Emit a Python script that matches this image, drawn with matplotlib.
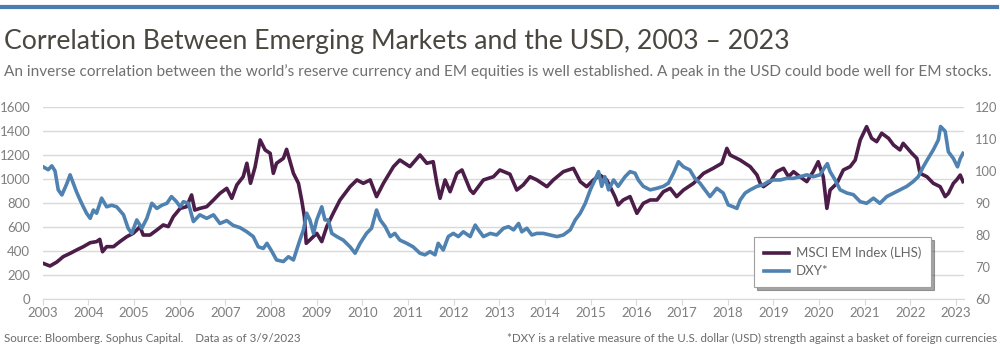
import matplotlib
matplotlib.use('Agg')
import matplotlib.pyplot as plt
from matplotlib.lines import Line2D

plt.rcParams['font.family'] = ['Lato', 'DejaVu Sans']

# MSCI EM Index (left axis)
msci_years = [2003.01, 2003.16, 2003.31, 2003.45, 2003.60, 2003.74, 2003.89, 2004.04, 2004.18, 2004.25,
              2004.31, 2004.40, 2004.55, 2004.69, 2004.84, 2004.98, 2005.06, 2005.13, 2005.20, 2005.35,
              2005.50, 2005.64, 2005.75, 2005.86, 2006.01, 2006.15, 2006.26, 2006.33, 2006.44, 2006.59,
              2006.74, 2006.88, 2007.03, 2007.14, 2007.25, 2007.39, 2007.47, 2007.55, 2007.65, 2007.76,
              2007.87, 2007.98, 2008.05, 2008.12, 2008.27, 2008.34, 2008.49, 2008.60, 2008.67, 2008.73,
              2008.77, 2008.85, 2009.00, 2009.11, 2009.22, 2009.36, 2009.51, 2009.73, 2009.88, 2010.02,
              2010.17, 2010.31, 2010.46, 2010.68, 2010.82, 2011.04, 2011.26, 2011.41, 2011.55, 2011.63,
              2011.70, 2011.81, 2011.92, 2012.07, 2012.18, 2012.36, 2012.43, 2012.65, 2012.87, 2013.01,
              2013.23, 2013.38, 2013.52, 2013.67, 2013.82, 2014.04, 2014.18, 2014.40, 2014.62, 2014.77,
              2014.91, 2015.06, 2015.20, 2015.35, 2015.53, 2015.60, 2015.71, 2015.86, 2016.01, 2016.15,
              2016.30, 2016.45, 2016.59, 2016.74, 2016.88, 2017.03, 2017.25, 2017.47, 2017.68, 2017.87,
              2017.98, 2018.05, 2018.27, 2018.49, 2018.64, 2018.71, 2018.78, 2018.93, 2019.07, 2019.22,
              2019.33, 2019.44, 2019.58, 2019.73, 2019.87, 2019.98, 2020.09, 2020.17, 2020.24, 2020.39,
              2020.53, 2020.68, 2020.79, 2020.90, 2021.04, 2021.15, 2021.26, 2021.37, 2021.52, 2021.63,
              2021.77, 2021.84, 2022.03, 2022.14, 2022.21, 2022.36, 2022.50, 2022.65, 2022.76, 2022.83,
              2022.94, 2023.01, 2023.09, 2023.15]
msci_values = [297, 275, 308, 353, 380, 408, 436, 469, 478, 497,
               394, 436, 436, 478, 519, 547, 575, 603, 533, 533,
               575, 617, 603, 686, 755, 769, 867, 741, 755, 769,
               825, 880, 922, 839, 950, 1019, 1131, 964, 1100, 1325,
               1242, 1214, 1047, 1131, 1172, 1247, 1047, 964, 825, 686,
               464, 492, 547, 478, 603, 714, 825, 936, 992, 964,
               992, 853, 964, 1103, 1158, 1103, 1200, 1131, 1144, 964,
               839, 992, 894, 1047, 1075, 908, 880, 992, 1019, 1075,
               1040, 908, 950, 1019, 992, 936, 992, 1061, 1089, 978,
               936, 992, 1033, 992, 853, 783, 825, 853, 714, 797,
               825, 825, 894, 922, 853, 908, 964, 1047, 1089, 1131,
               1255, 1200, 1158, 1103, 1033, 964, 936, 978, 1061, 1089,
               1019, 1061, 1019, 978, 1061, 1144, 1019, 755, 908, 964,
               1075, 1103, 1158, 1325, 1436, 1339, 1311, 1381, 1339, 1283,
               1242, 1297, 1214, 1172, 1047, 1019, 964, 936, 853, 880,
               964, 992, 1033, 978]

# DXY (right axis)
dxy_years = [2003.01, 2003.12, 2003.20, 2003.27, 2003.34, 2003.42, 2003.53, 2003.60, 2003.67, 2003.74,
             2003.82, 2003.89, 2003.96, 2004.04, 2004.11, 2004.18, 2004.29, 2004.40, 2004.51, 2004.62,
             2004.77, 2004.87, 2004.95, 2005.06, 2005.17, 2005.28, 2005.39, 2005.50, 2005.61, 2005.72,
             2005.82, 2005.93, 2006.01, 2006.08, 2006.19, 2006.30, 2006.44, 2006.59, 2006.74, 2006.88,
             2007.03, 2007.17, 2007.32, 2007.47, 2007.61, 2007.72, 2007.83, 2007.91, 2008.02, 2008.12,
             2008.27, 2008.38, 2008.49, 2008.56, 2008.63, 2008.71, 2008.78, 2008.85, 2008.93, 2009.00,
             2009.11, 2009.18, 2009.25, 2009.33, 2009.44, 2009.58, 2009.73, 2009.84, 2009.95, 2010.09,
             2010.20, 2010.31, 2010.39, 2010.50, 2010.61, 2010.71, 2010.82, 2010.97, 2011.11, 2011.26,
             2011.37, 2011.48, 2011.59, 2011.66, 2011.77, 2011.88, 2011.99, 2012.10, 2012.21, 2012.36,
             2012.47, 2012.54, 2012.65, 2012.80, 2012.94, 2013.09, 2013.20, 2013.31, 2013.42, 2013.49,
             2013.60, 2013.71, 2013.82, 2013.96, 2014.11, 2014.26, 2014.40, 2014.55, 2014.66, 2014.77,
             2014.88, 2014.99, 2015.09, 2015.17, 2015.24, 2015.31, 2015.39, 2015.50, 2015.60, 2015.75,
             2015.86, 2015.97, 2016.04, 2016.15, 2016.30, 2016.45, 2016.59, 2016.70, 2016.81, 2016.92,
             2017.03, 2017.17, 2017.28, 2017.39, 2017.50, 2017.61, 2017.76, 2017.90, 2018.01, 2018.12,
             2018.20, 2018.27, 2018.38, 2018.49, 2018.64, 2018.78, 2018.89, 2019.00, 2019.15, 2019.29,
             2019.44, 2019.58, 2019.73, 2019.87, 2020.02, 2020.13, 2020.18, 2020.24, 2020.35, 2020.46,
             2020.61, 2020.75, 2020.90, 2021.04, 2021.19, 2021.33, 2021.48, 2021.63, 2021.77, 2021.92,
             2022.06, 2022.17, 2022.28, 2022.39, 2022.50, 2022.61, 2022.66, 2022.76, 2022.83, 2022.94,
             2023.03, 2023.09, 2023.15]
dxy_values = [101.3, 100.4, 101.6, 100.0, 94.1, 92.5, 96.1, 98.8, 96.1, 93.5,
              90.9, 88.8, 86.8, 85.2, 87.8, 86.8, 91.5, 88.8, 89.3, 88.8,
              86.3, 82.1, 80.5, 84.7, 82.1, 85.2, 89.9, 88.3, 89.3, 89.9,
              92.0, 90.4, 88.8, 90.4, 89.9, 84.2, 86.3, 85.2, 86.3, 83.6,
              84.5, 83.0, 82.3, 81.0, 79.5, 76.3, 75.8, 77.4, 74.8, 72.2,
              71.7, 73.2, 72.2, 75.3, 78.4, 81.6, 86.8, 84.7, 80.5, 84.7,
              88.8, 84.7, 84.7, 80.5, 79.5, 78.4, 76.3, 74.3, 77.4, 80.5,
              82.1, 87.8, 84.7, 82.6, 79.5, 80.5, 78.4, 77.4, 76.3, 74.3,
              73.8, 74.8, 73.8, 77.4, 75.3, 79.5, 80.5, 79.5, 81.0, 79.5,
              83.1, 81.6, 79.5, 80.5, 80.0, 82.1, 82.6, 81.6, 83.6, 81.0,
              82.1, 80.0, 80.5, 80.5, 80.0, 79.5, 80.0, 81.6, 84.7, 86.8,
              89.9, 94.1, 97.2, 99.8, 95.2, 98.2, 94.1, 97.2, 95.2, 98.2,
              99.8, 99.3, 97.2, 95.2, 94.1, 94.6, 95.2, 96.2, 99.3, 102.9,
              101.3, 100.3, 97.7, 96.2, 94.1, 92.0, 94.6, 93.1, 89.4, 88.8,
              88.3, 90.9, 93.1, 94.1, 95.2, 95.7, 96.7, 97.2, 97.2, 97.7,
              97.7, 98.2, 98.8, 98.2, 98.8, 101.3, 102.3, 99.8, 97.2, 94.1,
              93.1, 92.6, 90.4, 89.9, 91.5, 89.9, 92.0, 93.1, 94.1, 95.2,
              96.7, 98.2, 101.3, 104.0, 106.6, 109.7, 113.9, 112.4, 106.0, 103.9,
              101.3, 103.9, 105.5]

years = list(range(2003, 2024))
left_ticks = list(range(0, 1601, 200))
right_ticks = list(range(60, 121, 10))

PURPLE = '#4b1d48'
BLUE = '#4f82b1'
GRID = '#d9d9d9'
TICK = '#7f7f7f'

fig = plt.figure(figsize=(10, 3.54), dpi=100)

# blue rule across the top
fig.add_artist(Line2D([0.002, 0.997], [0.980, 0.980], color='#4c7db0', lw=3.0,
                      transform=fig.transFigure))

fig.text(0.004, 0.883, 'Correlation Between Emerging Markets and the USD, 2003 \u2013 2023',
         fontsize=19.2, color='#4a4640', ha='left', va='center')
fig.text(0.004, 0.797, 'An inverse correlation between the world\u2019s reserve currency and EM equities '
         'is well established. A peak in the USD could bode well for EM stocks.',
         fontsize=11.05, color='#707070', ha='left', va='center')

ax = fig.add_axes([0.0427, 0.1554, 0.9212, 0.5424])
ax.plot(msci_years, msci_values, color=PURPLE, lw=2.6, solid_joinstyle='round',
        label='MSCI EM Index (LHS)')
ax.set_xlim(2003, 2023.17)
ax.set_ylim(0, 1600)
ax.set_yticks(left_ticks)
ax.set_xticks(years)
ax.grid(axis='y', color=GRID, lw=1.0)
ax.set_axisbelow(True)
for s in ['top', 'right', 'left']:
    ax.spines[s].set_visible(False)
ax.spines['bottom'].set_color(GRID)
ax.tick_params(axis='y', length=0, pad=9, labelsize=9.5, labelcolor=TICK)
ax.tick_params(axis='x', length=4, color=GRID, pad=2, labelsize=9.5, labelcolor=TICK)

ax2 = ax.twinx()
ax2.plot(dxy_years, dxy_values, color=BLUE, lw=2.6, solid_joinstyle='round', label='DXY*')
ax2.set_ylim(60, 120)
ax2.set_yticks(right_ticks)
for s in ax2.spines.values():
    s.set_visible(False)
ax2.tick_params(axis='y', length=0, pad=8, labelsize=9.3, labelcolor=TICK)

h1, l1 = ax.get_legend_handles_labels()
h2, l2 = ax2.get_legend_handles_labels()
leg = ax2.legend(h1 + h2, l1 + l2, loc='upper left', bbox_to_anchor=(0.754, 0.331),
                 bbox_transform=fig.transFigure, fontsize=9.5, frameon=True, fancybox=False,
                 shadow=True, handlelength=1.9, handletextpad=0.55, labelspacing=0.45,
                 borderpad=0.75, borderaxespad=0)
leg.get_frame().set_edgecolor('#a0a0a0')
leg.get_frame().set_linewidth(0.8)
for t in leg.get_texts():
    t.set_color('#666666')

fig.text(0.004, 0.045, 'Source: Bloomberg. Sophus Capital.    Data as of 3/9/2023',
         fontsize=8.3, color='#6a6a6a', ha='left', va='center')
fig.text(0.997, 0.045, '*DXY is a relative measure of the U.S. dollar (USD) strength against a basket '
         'of foreign currencies', fontsize=8.3, color='#6a6a6a', ha='right', va='center')

fig.savefig('out.png', dpi=100)
